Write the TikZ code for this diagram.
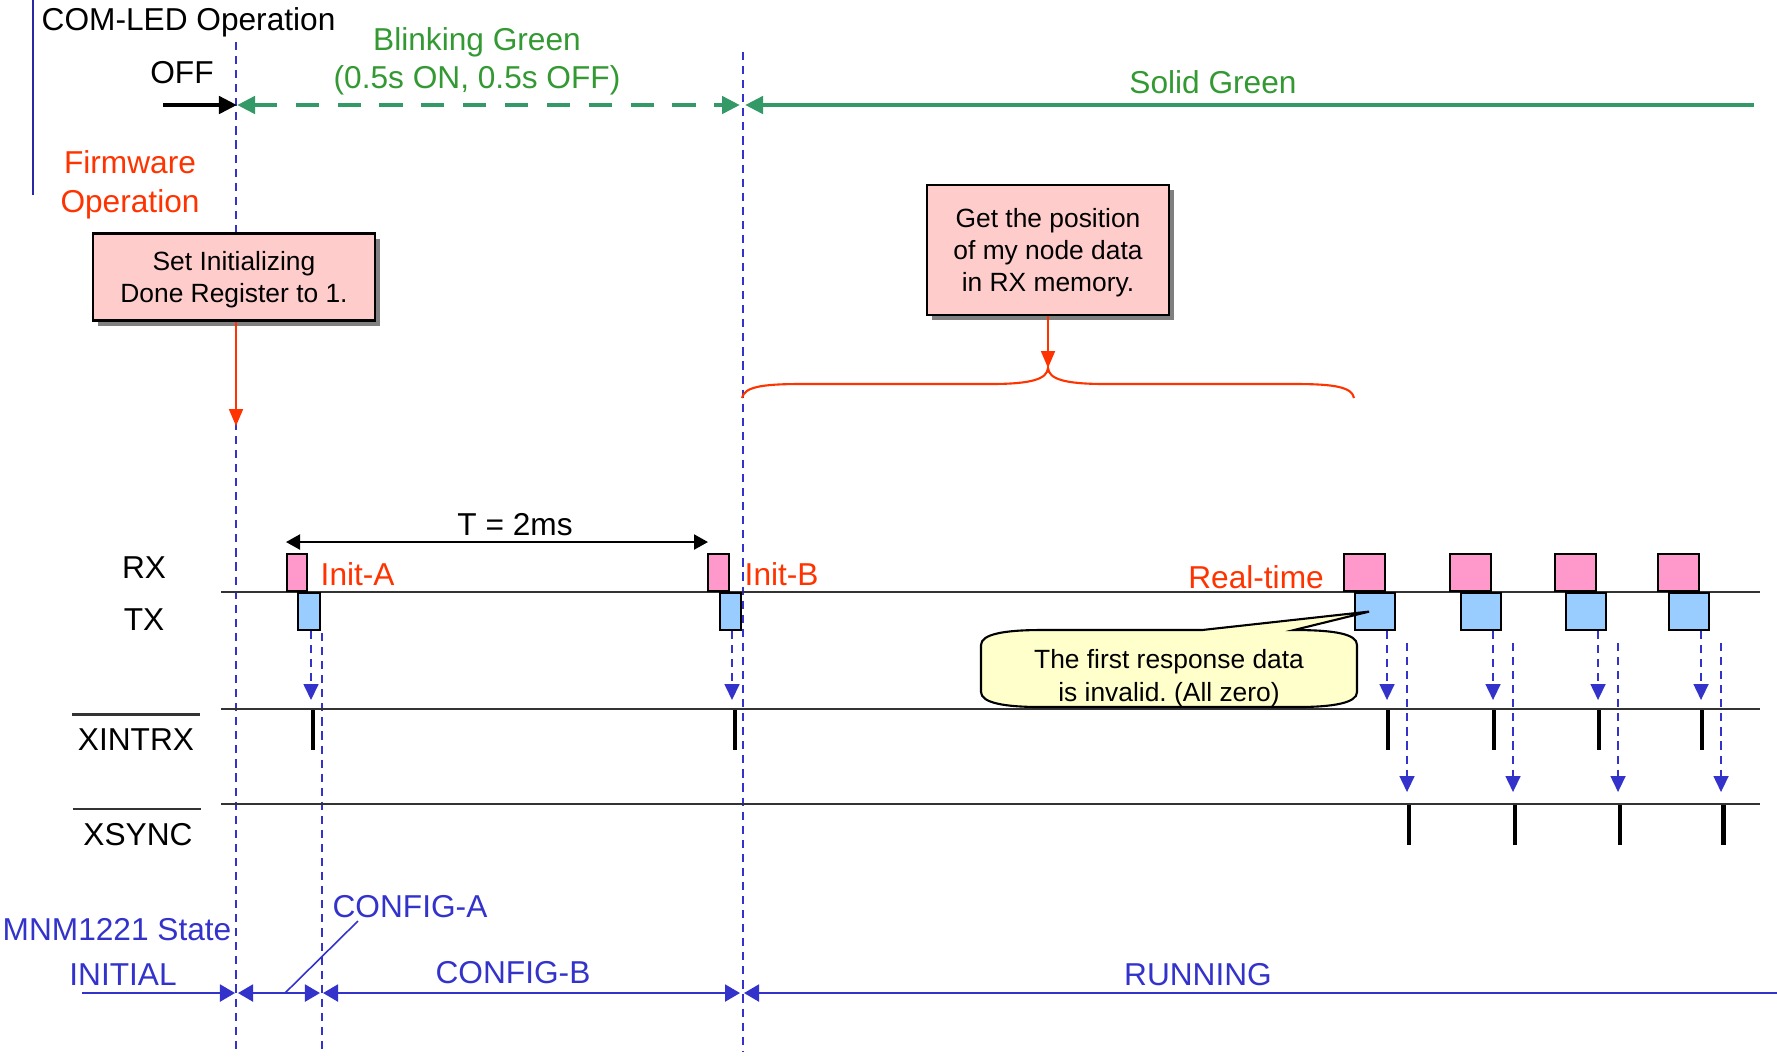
\documentclass[tikz,border=0pt]{standalone}
\usepackage{fontspec}
\setmainfont{Liberation Sans}
\usepackage{tikz}
\usetikzlibrary{arrows.meta,calc,shadows}

\definecolor{ledgreen}{HTML}{339966}
\definecolor{txtgreen}{HTML}{339933}
\definecolor{fwred}{HTML}{FF3300}
\definecolor{stblue}{HTML}{3333CC}
\definecolor{rxpink}{HTML}{FF99CC}
\definecolor{txblue}{HTML}{99CCFF}
\definecolor{notepink}{HTML}{FFCCCC}
\definecolor{noteyellow}{HTML}{FFFFCC}

\frenchspacing
\begin{document}
\begin{tikzpicture}[
  x=0.01cm, y=-0.01cm,
  every node/.style={inner sep=0pt, font=\fontsize{9}{10.5}\selectfont},
  lbl/.style={anchor=base},
  ledtip/.tip={Triangle[length=0.18cm,width=0.17cm]},
  trigtip/.tip={Triangle[length=0.16cm,width=0.15cm]},
  sttip/.tip={Triangle[length=0.15cm,width=0.17cm]},
  ledarr/.style={line width=1.4pt},
  guide/.style={stblue, line width=0.45pt, dash pattern=on 2.3pt off 1.7pt},
  sig/.style={black!80, line width=0.7pt},
  pulse/.style={line width=1.4pt},
  trig/.style={stblue, line width=0.45pt, dash pattern=on 2.3pt off 1.7pt, -trigtip},
  fwarr/.style={fwred, line width=0.5pt, -{Triangle[length=0.17cm,width=0.14cm]}},
  stline/.style={stblue, line width=0.6pt},
  fwbox/.style={draw, line width=0.6pt, fill=notepink, align=center, text depth=0pt,
    font=\fontsize{7.5}{9.1}\selectfont,
    drop shadow={shadow xshift=0.05cm, shadow yshift=-0.05cm, fill=black!50, opacity=1}},
  rxbox/.style={draw, line width=0.6pt, fill=rxpink, minimum height=0.37cm},
  txbox/.style={draw, line width=0.6pt, fill=txblue, minimum height=0.37cm}
]
\useasboundingbox (0,0) rectangle (1777,1059);

% Guides
\coordinate (gA top) at (236,42);  \coordinate (gA bot) at (236,1052);
\coordinate (gB top) at (743,52);  \coordinate (gB bot) at (743,1052);
\coordinate (gC top) at (322,633); \coordinate (gC bot) at (322,1052);
\draw[guide] (gA top) -- (gA bot);
\draw[guide] (gB top) -- (gB bot);
\draw[guide] (gC top) -- (gC bot);

% COM-LED
\draw[stblue!80!black, line width=0.6pt] (33,0) -- (33,195);
\node[lbl, anchor=base west] (comled) at (41,30) {COM-LED Operation};
\node[lbl] (off) at (182,83) {OFF};
\node[text=txtgreen, align=center, font=\fontsize{9}{10.8}\selectfont] (blink) at (477,61)
  {Blinking Green\\(0.5s ON, 0.5s OFF)};
\node[lbl, text=txtgreen] (solid) at (1213,93) {Solid Green};
\coordinate (led0) at (163,105);
\coordinate (ledA) at (237,105);
\coordinate (ledB) at (740,105);
\coordinate (ledC) at (745,105);
\coordinate (ledEnd) at (1754,105);
\draw[ledarr, -ledtip] (led0) -- (ledA);
\draw[ledarr, ledgreen, dash pattern=on 6.6pt off 5.3pt, ledtip-ledtip] (ledA) -- (ledB);
\draw[ledarr, ledgreen, ledtip-] (ledC) -- (ledEnd);

% Firmware
\node[text=fwred, align=center, font=\fontsize{9}{11}\selectfont] (fw) at (130,185) {Firmware\\Operation};
\node[fwbox, minimum width=2.82cm, minimum height=0.87cm] (setinit) at (234,277)
  {Set Initializing\\Done Register to 1.};
\coordinate (fwA) at (236,426);
\draw[fwarr] (setinit.south -| fwA) -- (fwA);
\node[fwbox, minimum width=2.42cm, minimum height=1.30cm] (getpos) at (1048,250)
  {Get the position\\of my node data\\in RX memory.};
\coordinate (bracetip) at (1048,368);
\draw[fwarr] (getpos) -- (bracetip);
\draw[fwred, line width=0.6pt] (742,398) .. controls (744,387) and (762,384) .. (800,384)
  -- (990,384) .. controls (1032,384) and (1047,379) .. (bracetip)
  .. controls (1049,379) and (1064,384) .. (1106,384) -- (1296,384)
  .. controls (1334,384) and (1352,387) .. (1354,398);

% Signals
\node[lbl] (rx) at (144,578) {RX};
\node[lbl] (tx) at (144,630) {TX};
\node[lbl] (xintrx) at (136,750) {XINTRX};
\node[lbl] (xsync) at (138,845) {XSYNC};
\draw[sig] ($(xintrx.north west)+(-5,-13)$) -- ($(xintrx.north east)+(5,-13)$);
\draw[sig] ($(xsync.north west)+(-10,-13)$) -- ($(xsync.north east)+(8,-13)$);
\coordinate (rxL) at (221,592); \coordinate (rxR) at (1760,592);
\coordinate (xiL) at (221,709); \coordinate (xiR) at (1760,709);
\coordinate (xsL) at (221,804); \coordinate (xsR) at (1760,804);
\draw[sig] (rxL) -- (rxR);
\draw[sig] (xiL) -- (xiR);
\draw[sig] (xsL) -- (xsR);

% Init frames
\node[rxbox, minimum width=0.20cm, anchor=south west] (rxA) at (286,592) {};
\node[txbox, minimum width=0.22cm, anchor=north west] (txA) at (297,592) {};
\node[rxbox, minimum width=0.21cm, anchor=south west] (rxB) at (707,592) {};
\node[txbox, minimum width=0.21cm, anchor=north west] (txB) at (719,592) {};
\node[lbl, anchor=base west, text=fwred] (initA) at (320,585) {Init-A};
\node[lbl, anchor=base west, text=fwred] (initB) at (744,585) {Init-B};
\coordinate (perA) at (286,542);
\coordinate (perB) at (708,542);
\draw[line width=0.6pt, {Triangle[length=0.14cm,width=0.15cm]}-{Triangle[length=0.14cm,width=0.15cm]}] (perA) -- (perB);
\node[lbl] (period) at (515,535) {T = 2ms};
\coordinate (tiA) at (311,700);
\coordinate (tiB) at (732,700);
\draw[trig] (txA.south -| tiA) -- (tiA);
\draw[trig] (txB.south -| tiB) -- (tiB);
\draw[pulse] (313,710) -- (313,750);
\draw[pulse] (735,710) -- (735,750);

% Real-time frames
\node[lbl, text=fwred] (rtlbl) at (1256,588) {Real-time};
\foreach \n/\x in {1/1343,2/1449,3/1554,4/1657}{
  \node[rxbox, minimum width=0.41cm, anchor=south west] (rt\n) at (\x,592) {};
  \node[txbox, minimum width=0.40cm, anchor=north west] (tr\n) at (\x+11,592) {};
  \coordinate (ti\n) at (\x+44,700);
  \coordinate (ts\n) at (\x+64,792);
  \draw[trig] (tr\n.south -| ti\n) -- (ti\n);
  \draw[trig] (\x+64,643) -- (ts\n);
  \draw[pulse] (\x+45,710) -- (\x+45,750);
  \draw[pulse] (\x+66,805) -- (\x+66,845);
}

% Callout
\coordinate (notetip) at ($(tr1.center)+(-6,0)$);
\draw[fill=noteyellow, line width=0.6pt] (1202,630) -- (notetip) -- (1294,630)
  .. controls (1335,630) and (1357,634) .. (1357,645) -- (1357,692)
  .. controls (1357,703) and (1333,707) .. (1297,707) -- (1041,707)
  .. controls (1005,707) and (981,703) .. (981,692) -- (981,645)
  .. controls (981,634) and (1005,630) .. (1041,630) -- cycle;
\node[align=center, font=\fontsize{7.5}{9.3}\selectfont] (note) at (1169,678)
  {The first response data\\is invalid. (All zero)};

% MNM1221 states
\node[lbl, anchor=base west, text=stblue] (mnm) at (2,940) {MNM1221 State};
\node[lbl, text=stblue] (initial) at (123,985) {INITIAL};
\node[lbl, text=stblue] (cfgA) at (410,917) {CONFIG-A};
\node[lbl, text=stblue] (cfgB) at (513,983) {CONFIG-B};
\node[lbl, text=stblue] (run) at (1198,985) {RUNNING};
\coordinate (s0) at (82,993);  \coordinate (s1) at (235,993);
\coordinate (s2) at (238,993); \coordinate (s3) at (320,993);
\coordinate (s4) at (323,993); \coordinate (s5) at (740,993);
\coordinate (s6) at (744,993); \coordinate (s7) at (1777,993);
\draw[stline, -sttip] (s0) -- (s1);
\draw[stline, sttip-sttip] (s2) -- (s3);
\draw[stline, sttip-sttip] (s4) -- (s5);
\draw[stline, sttip-] (s6) -- (s7);
\coordinate (cfgAfoot) at (285,993);
\draw[stblue, line width=0.45pt] ([xshift=0.26cm, yshift=-0.03cm]cfgA.south west) -- (cfgAfoot);
\end{tikzpicture}
\end{document}
